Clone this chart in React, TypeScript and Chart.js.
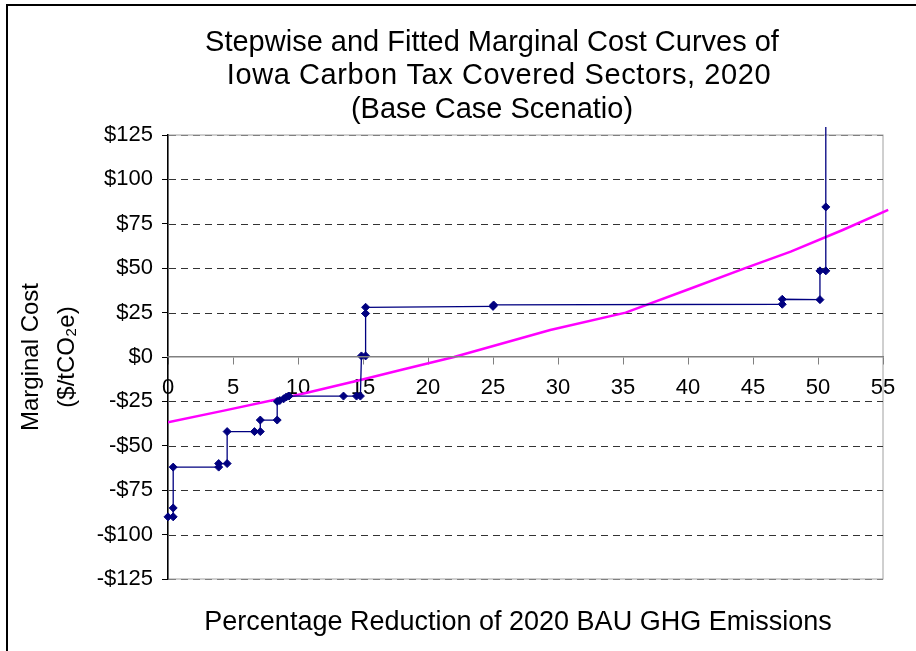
import { useEffect, useRef } from 'react';
import { Chart, registerables } from 'chart.js';

Chart.register(...registerables);

const TITLE_LINES = [
  'Stepwise and Fitted Marginal Cost Curves of',
  'Iowa Carbon Tax Covered Sectors, 2020',
  '(Base Case Scenatio)',
];
const X_TITLE = 'Percentage Reduction of 2020 BAU GHG Emissions';
const Y_TITLE = ['Marginal Cost', '($/tCO₂e)'];

// Stepwise marginal cost curve (percent reduction, $/tCO2e)
const stepX = [0, 0.4, 0.4, 0.4, 3.9, 3.9, 4.55, 4.55, 6.65, 7.1, 7.1, 8.4, 8.4, 8.6, 8.9, 9.1, 9.3, 13.5, 14.5, 14.8, 14.88, 15.2, 15.2, 15.2, 25, 25.05, 47.25, 47.25, 50.15, 50.15, 50.6, 50.6, 50.6];
const stepY = [-90, -90, -85, -62, -62, -60, -60, -42, -42, -42, -35.5, -35.5, -25, -24.5, -23.5, -22.5, -22, -22, -22, -22, 0.6, 0.6, 24.5, 28, 28.5, 29.3, 29.7, 32.5, 32.3, 48.5, 48.5, 84.5, 200];

// Fitted marginal cost curve
const fitX = [0, 4.3, 10.2, 14.8, 17.9, 22, 29.4, 35.2, 40, 44.4, 47.9, 51.9, 55.4];
const fitY = [-36.7, -30.2, -21, -13, -7.3, 0, 15.2, 25, 38, 50, 59.3, 71.5, 82.8];

const X_MIN = 0, X_MAX = 55, X_STEP = 5;
const Y_MIN = -125, Y_MAX = 125, Y_STEP = 25;

const FONT = '"Liberation Sans", Arial, sans-serif';
const GRID_DASH = [7, 5];

const titlesPlugin = {
  id: 'customTitles',
  beforeDraw(chart: any) {
    const { ctx, chartArea } = chart;
    ctx.save();
    ctx.strokeStyle = '#a0a0a0';
    ctx.lineWidth = 1;
    ctx.strokeRect(chartArea.left, chartArea.top, chartArea.right - chartArea.left, chartArea.bottom - chartArea.top);
    ctx.restore();
  },
  beforeDatasetsDraw(chart: any) {
    // dashed horizontal gridlines at the y scale's own ticks
    const { ctx, chartArea } = chart;
    const ys = chart.scales.y;
    ctx.save();
    ctx.lineWidth = 1;
    ctx.setLineDash(GRID_DASH);
    ys.ticks.forEach((t: any) => {
      if (t.value === 0) return;
      const y = Math.round(ys.getPixelForValue(t.value)) + 0.5;
      ctx.strokeStyle = t.value === Y_MAX || t.value === Y_MIN ? '#808080' : '#333333';
      ctx.beginPath();
      ctx.moveTo(chartArea.left + 1, y);
      ctx.lineTo(chartArea.right, y);
      ctx.stroke();
    });
    ctx.restore();
  },
  afterDraw(chart: any) {
    const { ctx } = chart;
    ctx.save();
    ctx.fillStyle = '#000';
    ctx.textAlign = 'center';
    ctx.textBaseline = 'alphabetic';
    ctx.font = `29px ${FONT}`;
    const centers = [484, 491, 484];
    const spacing = ['0px', '0.6px', '0px'];
    TITLE_LINES.forEach((t, i) => {
      (ctx as any).letterSpacing = spacing[i];
      ctx.fillText(t, centers[i], 44.5 + i * 33.5);
    });
    (ctx as any).letterSpacing = '0px';
    ctx.font = `27px ${FONT}`;
    ctx.fillText(X_TITLE, 510, 624);
    ctx.restore();
  },
};

export default function App() {
  const ref = useRef<HTMLCanvasElement>(null);

  useEffect(() => {
    if (!ref.current) return;
    const last = stepX.length - 1;
    const chart = new Chart(ref.current, {
      type: 'scatter',
      data: {
        datasets: [
          {
            label: 'Fitted',
            data: fitX.map((x, i) => ({ x, y: fitY[i] })),
            showLine: true,
            borderColor: '#ff00ff',
            borderWidth: 2.5,
            pointRadius: 0,
            tension: 0,
            clip: { left: 0, top: 0, right: 8, bottom: 0 } as any,
            order: 2,
          },
          {
            label: 'Stepwise',
            data: stepX.map((x, i) => ({ x, y: stepY[i] })),
            showLine: true,
            borderColor: '#000080',
            borderWidth: 1.3,
            pointStyle: 'rectRot',
            pointRadius: (c: any) => (c.dataIndex === last ? 0 : 4),
            pointBackgroundColor: '#000080',
            pointBorderColor: '#000080',
            pointBorderWidth: 1,
            tension: 0,
            clip: { left: 5, top: 8, right: 5, bottom: 5 } as any,
            order: 1,
          },
        ],
      },
      options: {
        responsive: false,
        animation: false,
        devicePixelRatio: 1,
        layout: { padding: { top: 129, right: 33, bottom: 72, left: 0 } },
        plugins: {
          legend: { display: false },
          title: { display: false },
          tooltip: { enabled: false },
        },
        scales: {
          x: {
            type: 'linear',
            position: { y: 0 } as any,
            min: X_MIN,
            max: X_MAX,
            ticks: {
              stepSize: X_STEP,
              color: '#000',
              font: { family: FONT, size: 22 },
              padding: 11,
              maxRotation: 0,
              callback: (v: any) => String(v),
            },
            grid: {
              display: true,
              drawOnChartArea: false,
              drawTicks: true,
              tickLength: 7,
              tickColor: '#808080',
              color: '#808080',
            },
            border: { display: true, color: '#808080', width: 1.5, z: 1 },
          },
          y: {
            type: 'linear',
            position: 'left',
            min: Y_MIN,
            max: Y_MAX,
            afterFit: (s: any) => { s.width = 160; },
            ticks: {
              stepSize: Y_STEP,
              color: '#000',
              font: { family: FONT, size: 22 },
              padding: 9,
              callback: (v: any) => (v < 0 ? '-$' + -v : '$' + v),
            },
            grid: {
              display: true,
              drawOnChartArea: false,
              drawTicks: true,
              tickLength: 6,
              tickColor: '#000',
              color: '#000',
            },
            border: { display: true, color: '#000', width: 1.5 },
            title: {
              display: true,
              text: Y_TITLE,
              color: '#000',
              font: { family: FONT, size: 24, lineHeight: 1.5 },
              padding: { top: 5, bottom: 0 },
            },
          },
        },
      },
      plugins: [titlesPlugin],
    });
    return () => chart.destroy();
  }, []);

  return (
    <div
      style={{
        position: 'absolute',
        left: 6,
        top: 4,
        borderLeft: '2px solid #000',
        borderTop: '2px solid #000',
        background: '#fff',
      }}
    >
      <canvas ref={ref} width={908} height={645} style={{ display: 'block' }} />
    </div>
  );
}
